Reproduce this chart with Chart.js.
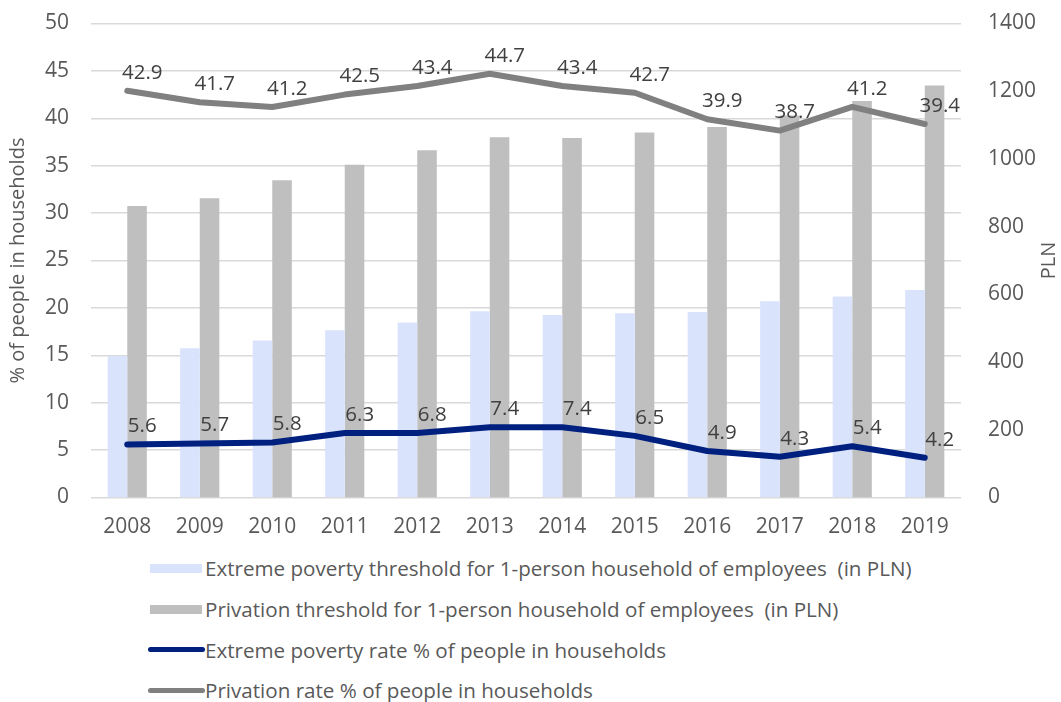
<!DOCTYPE html>
<html>
<head>
<meta charset="utf-8">
<script src="https://cdn.jsdelivr.net/npm/chart.js@4"></script>
<style>
  html, body { margin:0; padding:0; background:#fff; }
  body { width:1061px; height:702px; position:relative; overflow:hidden; font-family:"Open Sans", sans-serif; }
  #wrap { position:absolute; left:0; top:0; width:1061px; height:545px; }
  #legend { position:absolute; left:148px; top:548px; }
  .row { height:40.7px; display:flex; align-items:center; color:#595959; font-size:20.6px; white-space:pre; }
  .sw { display:inline-block; }
</style>
</head>
<body>
<div id="wrap"><canvas id="c"></canvas></div>
<div id="legend"></div>
<script>
const years = ['2008','2009','2010','2011','2012','2013','2014','2015','2016','2017','2018','2019'];
const extremeThreshold = [418, 441, 464, 494, 517, 550, 539, 544, 548, 580, 594, 613];
const privationThreshold = [861, 884, 937, 983, 1026, 1064, 1062, 1078, 1094, 1128, 1171, 1217];
// line positions as drawn in the picture
const extremeRate = [5.6, 5.7, 5.8, 6.8, 6.8, 7.4, 7.4, 6.5, 4.9, 4.3, 5.4, 4.2];
// data labels as printed in the picture
const extremeRateLabels = ['5.6', '5.7', '5.8', '6.3', '6.8', '7.4', '7.4', '6.5', '4.9', '4.3', '5.4', '4.2'];
const privationRate = [42.9, 41.7, 41.2, 42.5, 43.4, 44.7, 43.4, 42.7, 39.9, 38.7, 41.2, 39.4];
const privationRateLabels = ['42.9', '41.7', '41.2', '42.5', '43.4', '44.7', '43.4', '42.7', '39.9', '38.7', '41.2', '39.4'];
const seriesNames = [
  'Extreme poverty threshold for 1-person household of employees  (in PLN)',
  'Privation threshold for 1-person household of employees  (in PLN)',
  'Extreme poverty rate % of people in households',
  'Privation rate % of people in households'
];
const leftTitle = '% of people in households';
const rightTitle = 'PLN';

const FONT = '"Open Sans", sans-serif';
const TXT = '#595959';

const labelPlugin = {
  id: 'lineLabels',
  afterDatasetsDraw(chart) {
    const ctx = chart.ctx;
    ctx.save();
    ctx.font = '20.5px ' + FONT;
    ctx.fillStyle = '#404040';
    ctx.textAlign = 'center';
    ctx.textBaseline = 'middle';
    chart.data.datasets.forEach((ds, i) => {
      if (ds.type !== 'line') return;
      const meta = chart.getDatasetMeta(i);
      meta.data.forEach((pt, j) => {
        ctx.fillText(ds.valueLabels[j], pt.x + 15, pt.y - 18);
      });
    });
    ctx.restore();
  },
  afterDraw(chart) {
    const ctx = chart.ctx;
    const a = chart.chartArea;
    ctx.save();
    ctx.font = '20px ' + FONT;
    ctx.fillStyle = TXT;
    ctx.textAlign = 'center';
    ctx.textBaseline = 'middle';
    ctx.translate(1049, (a.top + a.bottom) / 2);
    ctx.rotate(-Math.PI / 2);
    ctx.fillText(rightTitle, 0, 0);
    ctx.restore();
  }
};

function noPad(s, w) { s.width = w; s.paddingTop = 0; s.paddingBottom = 0; }

const chart = new Chart(document.getElementById('c'), {
  type: 'bar',
  data: {
    labels: years,
    datasets: [
      { type:'bar', label: seriesNames[0], data: extremeThreshold, yAxisID:'y1', backgroundColor:'#dae3fc', order:2, categoryPercentage:0.54, barPercentage:1 },
      { type:'bar', label: seriesNames[1], data: privationThreshold, yAxisID:'y1', backgroundColor:'#bfbfbf', order:2, categoryPercentage:0.54, barPercentage:1 },
      { type:'line', label: seriesNames[2], data: extremeRate, valueLabels: extremeRateLabels, yAxisID:'y', borderColor:'#002080', backgroundColor:'#002080', borderWidth:6, pointRadius:0, tension:0, borderJoinStyle:'round', borderCapStyle:'round', order:1 },
      { type:'line', label: seriesNames[3], data: privationRate, valueLabels: privationRateLabels, yAxisID:'y', borderColor:'#808080', backgroundColor:'#808080', borderWidth:6, pointRadius:0, tension:0, borderJoinStyle:'round', borderCapStyle:'round', order:1 }
    ]
  },
  options: {
    responsive: true,
    maintainAspectRatio: false,
    animation: false,
    devicePixelRatio: 1,
    layout: { padding: { top: 23.5, left: 0, right: 0, bottom: 0 } },
    plugins: { legend: { display:false }, tooltip: { enabled:false } },
    scales: {
      x: {
        grid: { display:false, drawTicks:false },
        border: { display:false },
        ticks: { color:TXT, font:{ family:FONT, size:21 }, padding:17, maxRotation:0 },
        afterFit(s) { s.height = 47.5; }
      },
      y: {
        position:'left', min:0, max:50,
        grid: { color:'#d9d9d9', lineWidth:1.5, drawTicks:false },
        border: { display:false },
        ticks: { stepSize:5, color:TXT, font:{ family:FONT, size:21 }, padding:22 },
        title: { display:true, text:leftTitle, color:TXT, font:{ family:FONT, size:20 }, padding:{ top:6, bottom:0 } },
        afterFit(s) { noPad(s, 91); }
      },
      y1: {
        position:'right', min:0, max:1400,
        grid: { display:false, drawTicks:false },
        border: { display:false },
        ticks: { stepSize:200, color:TXT, font:{ family:FONT, size:21 }, padding:27, callback: v => String(v) },
        afterFit(s) { noPad(s, 100); }
      }
    }
  },
  plugins: [labelPlugin]
});

// HTML legend built from the datasets
const leg = document.getElementById('legend');
chart.data.datasets.forEach(ds => {
  const row = document.createElement('div');
  row.className = 'row';
  const sw = document.createElement('span');
  sw.className = 'sw';
  if (ds.type === 'bar') {
    sw.style.cssText = 'width:52px;height:9px;margin-left:2px;margin-right:3px;background:' + ds.backgroundColor;
  } else {
    sw.style.cssText = 'width:57px;height:5px;border-radius:3px;margin-right:0px;background:' + ds.borderColor;
  }
  const t = document.createElement('span');
  t.textContent = ds.label;
  row.appendChild(sw);
  row.appendChild(t);
  leg.appendChild(row);
});
</script>
</body>
</html>
